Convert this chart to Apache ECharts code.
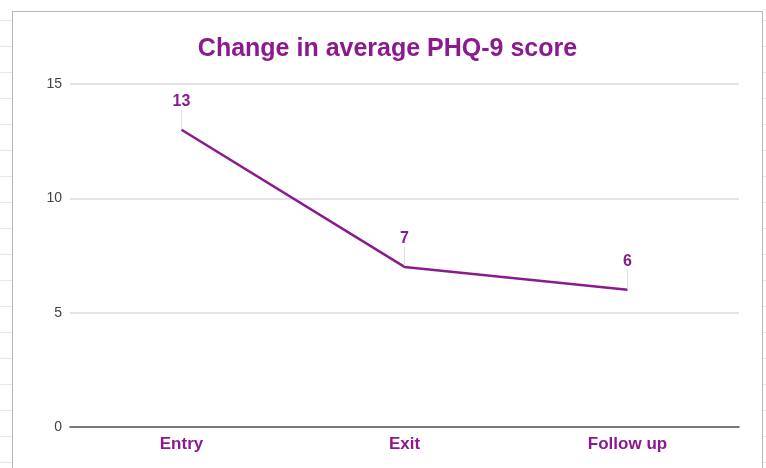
<!DOCTYPE html>
<html>
<head>
<meta charset="utf-8">
<script src="https://cdn.jsdelivr.net/npm/echarts@6/dist/echarts.min.js"></script>
<style>
    html, body { margin: 0; padding: 0; background: #fff; overflow: hidden; }
    /* faint spreadsheet cell lines around the chart */
    .cells { position: absolute; top: 0; width: 12px; height: 468px;
        background: repeating-linear-gradient(to bottom, transparent 0, transparent 20px, #e6e6e6 20px, #e6e6e6 21px, transparent 21px, transparent 26px); }
    #frame { position: absolute; left: 12px; top: 11px; width: 749px; height: 470px; border: 1px solid #b7b7b7; background: #fff; }
    #main { width: 749px; height: 457px; }
</style>
</head>
<body>
<div class="cells" style="left:0"></div>
<div class="cells" style="left:763px"></div>
<div id="frame"><div id="main"></div></div>
<script>
    // data
    var categories = ['Entry', 'Exit', 'Follow up'];
    var scores = [13, 7, 6];
    var purple = '#8b1a8f';

    var option = {
        backgroundColor: '#fff',
        title: {
            text: 'Change in average PHQ-9 score',
            left: 'center',
            top: 20,
            textStyle: { color: purple, fontSize: 25, fontWeight: 'bold', fontFamily: 'Arial, Liberation Sans' }
        },
        grid: { left: 57, right: 23, top: 72, bottom: 42 },
        xAxis: {
            type: 'category',
            data: categories,
            boundaryGap: true,
            axisTick: { show: false },
            axisLine: { lineStyle: { color: '#555', width: 1.5 } },
            axisLabel: { color: purple, fontSize: 17, fontWeight: 'bold', margin: 9, fontFamily: 'Arial, Liberation Sans' }
        },
        yAxis: {
            type: 'value',
            min: 0,
            max: 15,
            interval: 5,
            axisLine: { show: false },
            axisTick: { show: false },
            axisLabel: { color: '#444', fontSize: 14, margin: 8, fontFamily: 'Arial, Liberation Sans' },
            splitLine: { lineStyle: { color: '#e3e3e3', width: 2 } }
        },
        series: [{
            type: 'line',
            data: scores,
            symbol: 'circle',
            symbolSize: 2,
            itemStyle: { color: 'rgba(0,0,0,0)' },
            lineStyle: { color: purple, width: 2.5 },
            label: {
                show: true,
                position: 'top',
                distance: 4,
                color: purple,
                fontSize: 16,
                fontWeight: 'bold',
                fontFamily: 'Arial, Liberation Sans'
            },
            labelLayout: { dy: -15 },
            labelLine: { show: true, lineStyle: { color: '#ddd', width: 1 } }
        }]
    };

    var myChart = echarts.init(document.getElementById('main'));
    myChart.setOption(option);
</script>
</body>
</html>
